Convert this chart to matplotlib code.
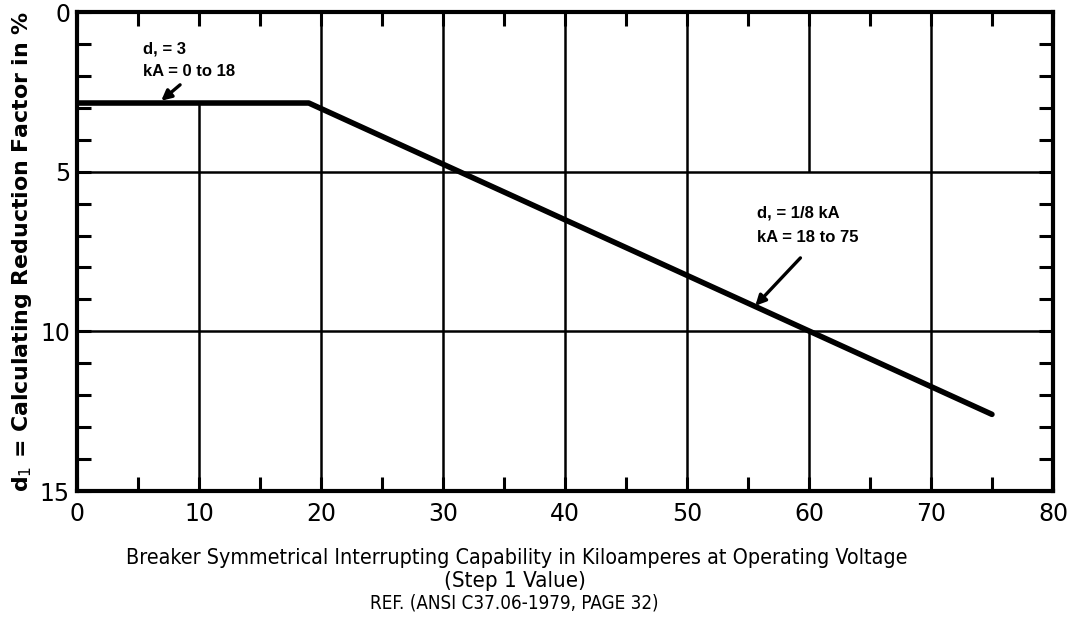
import matplotlib
matplotlib.use("Agg")
from matplotlib import pyplot as plt
from matplotlib.ticker import MultipleLocator

# curve
ka = [0, 19, 75]
d1 = [2.85, 2.85, 12.6]

x_major = [0, 10, 20, 30, 40, 50, 60, 70, 80]
y_major = [0, 5, 10, 15]

# grid lines as drawn (some are broken around the notes)
vgrid_x = [10, 20, 30, 40, 50, 60, 60, 70]
vgrid_top = [2.85, 0, 0, 0, 0, 0, 10, 0]
vgrid_bottom = [15, 15, 15, 15, 15, 5, 15, 15]
hgrid_y = [5, 10]

note1 = ["d, = 3", "kA = 0 to 18"]
note2 = ["d, = 1/8 kA", "kA = 18 to 75"]
xlabel_lines = ["Breaker Symmetrical Interrupting Capability in Kiloamperes at Operating Voltage",
                "(Step 1 Value)"]
ref_line = "REF. (ANSI C37.06-1979, PAGE 32)"

fig = plt.figure(figsize=(10.74, 6.32), dpi=100)
ax = fig.add_axes([0.0717, 0.2231, 0.9087, 0.7579])

ax.vlines(vgrid_x, vgrid_top, vgrid_bottom, color='black', linewidth=1.8)
ax.hlines(hgrid_y, 0, 80, color='black', linewidth=1.8)
ax.plot(ka, d1, color='black', linewidth=4, solid_capstyle='round', solid_joinstyle='round')

ax.set_xlim(0, 80)
ax.set_ylim(15, 0)
ax.set_xticks(x_major)
ax.set_yticks(y_major)
ax.xaxis.set_minor_locator(MultipleLocator(5))
ax.yaxis.set_minor_locator(MultipleLocator(1))
ax.tick_params(which='both', direction='in', length=10, width=2.2,
               top=True, bottom=True, left=True, right=True)
ax.tick_params(axis='x', which='major', labelsize=17, pad=8)
ax.tick_params(axis='y', which='major', labelsize=17, pad=5)
for s in ax.spines.values():
    s.set_linewidth(3)

ax.set_ylabel("d$_1$ = Calculating Reduction Factor in %", fontsize=15.8,
              fontweight='bold', labelpad=4)

# notes and pointer arrows
bold = dict(fontsize=12, fontweight='bold', family='Liberation Sans', va='center')
ax.text(5.4, 1.16, note1[0], **bold)
ax.text(5.4, 1.85, note1[1], **bold)
ax.annotate("", xy=(6.9, 2.78), xytext=(8.45, 2.28),
            arrowprops=dict(arrowstyle='-|>', color='black', lw=2.4,
                            shrinkA=0, shrinkB=0, mutation_scale=15))
ax.text(55.7, 6.3, note2[0], **bold)
ax.text(55.7, 7.05, note2[1], **bold)
ax.annotate("", xy=(55.6, 9.2), xytext=(59.3, 7.7),
            arrowprops=dict(arrowstyle='-|>', color='black', lw=2.4,
                            shrinkA=0, shrinkB=0, mutation_scale=15))

fig.text(0.481, 0.117, xlabel_lines[0], ha='center', va='center', fontsize=15.4,
         family='DejaVu Sans', fontstretch='condensed')
fig.text(0.479, 0.081, xlabel_lines[1], ha='center', va='center', fontsize=16,
         family='DejaVu Sans', fontstretch='condensed')
fig.text(0.479, 0.046, ref_line, ha='center', va='center', fontsize=13.5,
         family='DejaVu Sans', fontstretch='condensed')

fig.savefig("out.png", dpi=100)
